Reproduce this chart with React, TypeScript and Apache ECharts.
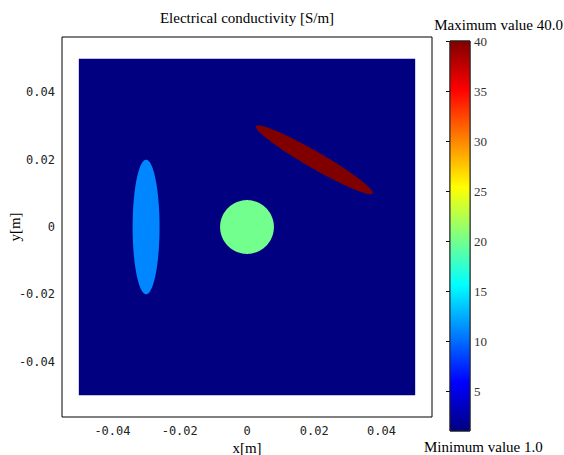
import React, { useEffect, useRef } from "react";
import * as echarts from "echarts";

// ---- data ----
const shapeKind = [0, 1, 1, 1]; // 0 = square domain, 1 = ellipse inclusion
const centerX = [0, -0.03, 0, 0.02];
const centerY = [0, 0, 0, 0.02];
const semiX = [0.05, 0.004, 0.008, 0.02];
const semiY = [0.05, 0.02, 0.008, 0.0025];
const angleDeg = [0, 0, 0, -30];
const conductivity = [1, 11, 20, 40];

const xTicks = [-0.04, -0.02, 0, 0.02, 0.04];
const yTicks = [-0.04, -0.02, 0, 0.02, 0.04];
const cbTicks = [5, 10, 15, 20, 25, 30, 35, 40];
const cbMin = 1;
const cbMax = 40;

const jet = [
  "#000080", "#0000ff", "#0080ff", "#00ffff", "#80ff80",
  "#ffff00", "#ff8000", "#ff0000", "#800000",
];

const fmt = (v: number) => (Math.abs(v) < 1e-12 ? "0" : v.toFixed(2));

export default function App() {
  const ref = useRef<HTMLDivElement>(null);
  useEffect(() => {
    if (!ref.current) return;
    const chart = echarts.init(ref.current, null, { renderer: "svg" });
    const shapeData = shapeKind.map((k, i) => [
      k, centerX[i], centerY[i], semiX[i], semiY[i], angleDeg[i], conductivity[i],
    ]);
    const serif = "'Liberation Serif', 'Times New Roman', serif";
    const mono = "'DejaVu Sans Mono', monospace";
    chart.setOption({
      animation: false,
      backgroundColor: "#fff",
      title: [
        {
          text: "Electrical conductivity [S/m]",
          left: 247, top: 10, textAlign: "center", padding: 0,
          textStyle: { fontFamily: serif, fontSize: 15, fontWeight: "normal", color: "#000" },
        },
        {
          text: "Maximum value 40.0",
          left: 563, top: 17, textAlign: "right", padding: 0,
          textStyle: { fontFamily: serif, fontSize: 15, fontWeight: "normal", color: "#000" },
        },
        {
          text: "Minimum value 1.0",
          left: 424, top: 439, textAlign: "left", padding: 0,
          textStyle: { fontFamily: serif, fontSize: 15, fontWeight: "normal", color: "#000" },
        },
      ],
      grid: [
        { left: 62, top: 37, width: 370, height: 380, show: true, borderColor: "#000", borderWidth: 1, backgroundColor: "#fff", containLabel: false, outerBoundsMode: "none" },
        { left: 450, top: 41, width: 20, height: 390, show: true, borderColor: "#222", borderWidth: 1, containLabel: false, outerBoundsMode: "none" },
      ],
      xAxis: [
        {
          type: "value", gridIndex: 0, min: -0.055, max: 0.055,
          name: "x[m]", nameLocation: "middle", nameGap: 23, nameMoveOverlap: false,
          nameTextStyle: { fontFamily: serif, fontSize: 15, color: "#000" },
          axisLine: { show: false }, axisTick: { show: false }, splitLine: { show: false },
          axisLabel: { customValues: xTicks, formatter: fmt, fontFamily: mono, fontSize: 12, color: "#222", margin: 8 },
        },
        { type: "value", gridIndex: 1, min: 0, max: 1, show: false },
      ],
      yAxis: [
        {
          type: "value", gridIndex: 0, min: -0.0565, max: 0.0565,
          name: "y[m]", nameLocation: "middle", nameGap: 40, nameMoveOverlap: false,
          nameTextStyle: { fontFamily: serif, fontSize: 15, color: "#000" },
          axisLine: { show: false }, axisTick: { show: false }, splitLine: { show: false },
          axisLabel: { customValues: yTicks, formatter: fmt, fontFamily: mono, fontSize: 12, color: "#222", margin: 7 },
        },
        {
          type: "value", gridIndex: 1, min: cbMin, max: cbMax, position: "right",
          axisLine: { show: false }, splitLine: { show: false },
          axisTick: { show: true, inside: true, length: 4, customValues: cbTicks, lineStyle: { color: "#111" } },
          axisLabel: { customValues: cbTicks, fontFamily: serif, fontSize: 13, color: "#333", margin: 4 },
        },
        {
          type: "value", gridIndex: 1, min: cbMin, max: cbMax, position: "left",
          axisLine: { show: false }, splitLine: { show: false },
          axisTick: { show: true, inside: true, length: 4, customValues: cbTicks, lineStyle: { color: "#111" } },
          axisLabel: { show: false },
        },
      ],
      visualMap: {
        type: "continuous", show: false, min: cbMin, max: cbMax,
        dimension: 6, seriesIndex: 0, inRange: { color: jet },
      },
      series: [
        {
          type: "custom", xAxisIndex: 0, yAxisIndex: 0,
          encode: { x: 1, y: 2 },
          data: shapeData,
          renderItem: (params: any, api: any) => {
            const kind = api.value(0);
            const cx = api.value(1), cy = api.value(2);
            const rx = api.value(3), ry = api.value(4);
            const a = (api.value(5) * Math.PI) / 180;
            let pts: number[][] = [];
            if (kind === 0) {
              pts = [[cx - rx, cy - ry], [cx + rx, cy - ry], [cx + rx, cy + ry], [cx - rx, cy + ry]];
            } else {
              const n = 180;
              for (let i = 0; i < n; i++) {
                const t = (i / n) * Math.PI * 2;
                const ex = rx * Math.cos(t), ey = ry * Math.sin(t);
                pts.push([cx + ex * Math.cos(a) - ey * Math.sin(a), cy + ex * Math.sin(a) + ey * Math.cos(a)]);
              }
            }
            return {
              type: "polygon",
              shape: { points: pts.map((p) => api.coord(p)) },
              style: { fill: api.visual("color"), stroke: null },
            };
          },
        },
        {
          type: "custom", xAxisIndex: 1, yAxisIndex: 1,
          encode: { x: 0, y: 2 },
          data: [[0, 1, cbMin, cbMax]],
          renderItem: (params: any, api: any) => {
            const p0 = api.coord([api.value(0), api.value(3)]);
            const p1 = api.coord([api.value(1), api.value(2)]);
            return {
              type: "rect",
              shape: { x: p0[0], y: p0[1], width: p1[0] - p0[0], height: p1[1] - p0[1] },
              style: {
                fill: new echarts.graphic.LinearGradient(0, 0, 0, 1,
                  jet.map((_, i) => ({ offset: i / (jet.length - 1), color: jet[jet.length - 1 - i] }))),
                stroke: "#222", lineWidth: 1,
              },
            };
          },
        },
      ],
    });
    return () => chart.dispose();
  }, []);
  return <div ref={ref} style={{ position: "fixed", left: 0, top: 0, width: 564, height: 455 }} />;
}
